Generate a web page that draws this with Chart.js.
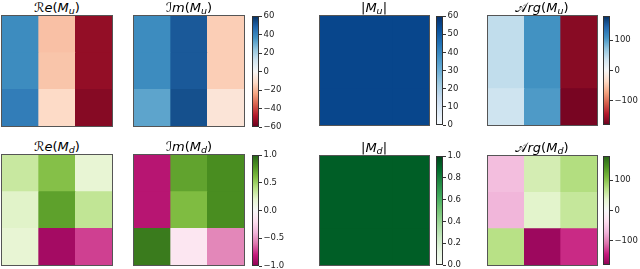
<!DOCTYPE html>
<html>
<head>
<meta charset="utf-8">
<script src="https://cdn.jsdelivr.net/npm/chart.js@4.4.0/dist/chart.umd.min.js"></script>
<style>
body { margin:0; background:#fff; width:640px; height:269px; position:relative; overflow:hidden; font-family:"DejaVu Sans", sans-serif; }
.cell { position:absolute; box-sizing:border-box; border:1px solid #555; }
.cb { position:absolute; }
canvas { display:block; }
.title { position:absolute; height:15px; line-height:15px; font-size:13px; text-align:center; color:#000; white-space:nowrap; }
.title i { font-style:italic; }
.title sub { font-size:9.5px; vertical-align:-2px; font-style:italic; }
</style>
</head>
<body>
<script>
// matrices, rows top to bottom, columns left to right
const cols = ['1', '2', '3'];
const reMu  = [[38, -18, -53], [38, -17, -53], [42, -12, -55]];
const imMu  = [[38, 51, -15], [38, 51, -15], [32, 53, -8]];
const absMu = [[55, 55, 55], [55, 55, 55], [55, 55, 55]];
const argMu = [[45, 109, -164], [45, 109, -164], [37, 103, -172]];

const reMd  = [[0.33, 0.58, 0.18], [0.22, 0.73, 0.36], [0.18, -0.92, -0.72]];
const imMd  = [[-0.85, 0.72, 0.82], [-0.85, 0.6, 0.82], [0.9, -0.15, -0.55]];
const absMd = [[0.92, 0.92, 0.92], [0.92, 0.92, 0.92], [0.92, 0.92, 0.92]];
const argMd = [[-65, 50, 75], [-72, 38, 62], [72, -170, -138]];

// colorbar tick labels
const ticksReImMu = [-60, -40, -20, 0, 20, 40, 60];
const ticksAbsMu  = [0, 10, 20, 30, 40, 50, 60];
const ticksArg    = [-100, 0, 100];
const ticksReImMd = [-1, -0.5, 0, 0.5, 1];
const ticksAbsMd  = [0, 0.2, 0.4, 0.6, 0.8, 1];

// matplotlib colormaps (ColorBrewer anchors)
const RdBu   = ['#67001f','#b2182b','#d6604d','#f4a582','#fddbc7','#f7f7f7','#d1e5f0','#92c5de','#4393c3','#2166ac','#053061'];
const PiYG   = ['#8e0152','#c51b7d','#de77ae','#f1b6da','#fde0ef','#f7f7f7','#e6f5d0','#b8e186','#7fbc41','#4d9221','#276419'];
const Blues  = ['#f7fbff','#deebf7','#c6dbef','#9ecae1','#6baed6','#4292c6','#2171b5','#08519c','#08306b'];
const Greens = ['#f7fcf5','#e5f5e0','#c7e9c0','#a1d99b','#74c476','#41ab5d','#238b45','#006d2c','#00441b'];

Chart.defaults.font.family = 'DejaVu Sans';

function hex(h) { return [1, 3, 5].map(i => parseInt(h.substr(i, 2), 16)); }
function colorAt(cmap, t) {
  t = Math.max(0, Math.min(1, t));
  const p = t * (cmap.length - 1);
  const i = Math.min(Math.floor(p), cmap.length - 2);
  const f = p - i;
  const a = hex(cmap[i]), b = hex(cmap[i + 1]);
  return 'rgb(' + a.map((v, k) => Math.round(v + (b[k] - v) * f)).join(',') + ')';
}

function box(cls, left, top, w, h) {
  const div = document.createElement('div');
  div.className = cls;
  Object.assign(div.style, { left: left + 'px', top: top + 'px', width: w + 'px', height: h + 'px' });
  const c = document.createElement('canvas');
  div.appendChild(c);
  document.body.appendChild(div);
  return c;
}

// heatmap = stacked bars, one dataset per row (bottom row first)
function heatmap(left, top, size, values, cmap, vmin, vmax) {
  const canvas = box('cell', left, top, size, size);
  const datasets = values.slice().reverse().map(row => ({
    data: row.map(() => 1),
    backgroundColor: row.map(v => colorAt(cmap, (v - vmin) / (vmax - vmin))),
    borderWidth: 0,
    barPercentage: 1,
    categoryPercentage: 1
  }));
  new Chart(canvas, {
    type: 'bar',
    data: { labels: cols, datasets },
    options: {
      responsive: true, maintainAspectRatio: false, animation: false, events: [],
      layout: { padding: 0 },
      plugins: { legend: { display: false }, tooltip: { enabled: false } },
      scales: {
        x: { display: false, stacked: true },
        y: { display: false, stacked: true, min: 0, max: 3 }
      }
    }
  });
}

const frame = {
  id: 'frame',
  afterDraw(chart) {
    const a = chart.chartArea, ctx = chart.ctx;
    ctx.save();
    ctx.strokeStyle = '#333';
    ctx.lineWidth = 1;
    ctx.strokeRect(a.left + 0.5, a.top + 0.5, a.right - a.left - 1, a.bottom - a.top - 1);
    ctx.restore();
  }
};

function colorbar(left, top, w, h, cmap, vmin, vmax, ticks, digits) {
  const pad = 7, axisW = 36;
  const canvas = box('cb', left, top - pad, w + axisW, h + 2 * pad);
  new Chart(canvas, {
    type: 'bar',
    data: {
      labels: [''],
      datasets: [{
        data: [[vmin, vmax]],
        backgroundColor: ctx => {
          const a = ctx.chart.chartArea;
          if (!a) return cmap[0];
          const g = ctx.chart.ctx.createLinearGradient(0, a.bottom, 0, a.top);
          cmap.forEach((c, i) => g.addColorStop(i / (cmap.length - 1), c));
          return g;
        },
        borderWidth: 0,
        barPercentage: 1,
        categoryPercentage: 1
      }]
    },
    options: {
      responsive: true, maintainAspectRatio: false, animation: false, events: [],
      layout: { padding: { top: pad, bottom: pad, left: 0, right: 0 } },
      plugins: { legend: { display: false }, tooltip: { enabled: false } },
      scales: {
        x: { display: false },
        y: {
          position: 'right', min: vmin, max: vmax,
          afterBuildTicks: s => { s.ticks = ticks.map(v => ({ value: v })); },
          afterFit: s => { s.width = axisW; s.paddingTop = 0; s.paddingBottom = 0; },
          ticks: {
            font: { size: 8.5 }, color: '#222', padding: 1.5,
            callback: v => (v < 0 ? '\u2212' : '') + Math.abs(v).toFixed(digits)
          },
          grid: { drawOnChartArea: false, drawTicks: true, tickLength: 3, color: '#333' },
          border: { display: false }
        }
      }
    },
    plugins: [frame]
  });
}

function title(cx, top, html) {
  const d = document.createElement('div');
  d.className = 'title';
  d.style.left = (cx - 60) + 'px';
  d.style.top = top + 'px';
  d.style.width = '120px';
  d.innerHTML = html;
  document.body.appendChild(d);
}

// row 1: M_u
heatmap(1, 15, 112, reMu, RdBu, -60, 60);
heatmap(133, 15, 112, imMu, RdBu, -60, 60);
colorbar(252, 16, 7, 111, RdBu, -60, 60, ticksReImMu, 0);
heatmap(319, 15, 111, absMu, Blues, 0, 60);
colorbar(436, 16, 7, 109, Blues, 0, 60, ticksAbsMu, 0);
heatmap(487, 15, 111, argMu, RdBu, -180, 180);
colorbar(603, 16, 7, 109, RdBu, -180, 180, ticksArg, 0);

// row 2: M_d
heatmap(1, 154, 112, reMd, PiYG, -1, 1);
heatmap(133, 154, 112, imMd, PiYG, -1, 1);
colorbar(252, 155, 7, 111, PiYG, -1, 1, ticksReImMd, 1);
heatmap(319, 155, 111, absMd, Greens, 0, 1);
colorbar(436, 156, 7, 109, Greens, 0, 1, ticksAbsMd, 1);
heatmap(487, 155, 111, argMd, PiYG, -180, 180);
colorbar(603, 156, 7, 109, PiYG, -180, 180, ticksArg, 0);

// titles
title(57, 0, '&#x211B;<i>e</i>(<i>M</i><sub>u</sub>)');
title(189, 0, '&#x2110;<i>m</i>(<i>M</i><sub>u</sub>)');
title(374, 0, '|<i>M</i><sub>u</sub>|');
title(542, 0, '&#x1D49C;<i>rg</i>(<i>M</i><sub>u</sub>)');
title(57, 139, '&#x211B;<i>e</i>(<i>M</i><sub>d</sub>)');
title(189, 139, '&#x2110;<i>m</i>(<i>M</i><sub>d</sub>)');
title(374, 140, '|<i>M</i><sub>d</sub>|');
title(542, 140, '&#x1D49C;<i>rg</i>(<i>M</i><sub>d</sub>)');
</script>
</body>
</html>
